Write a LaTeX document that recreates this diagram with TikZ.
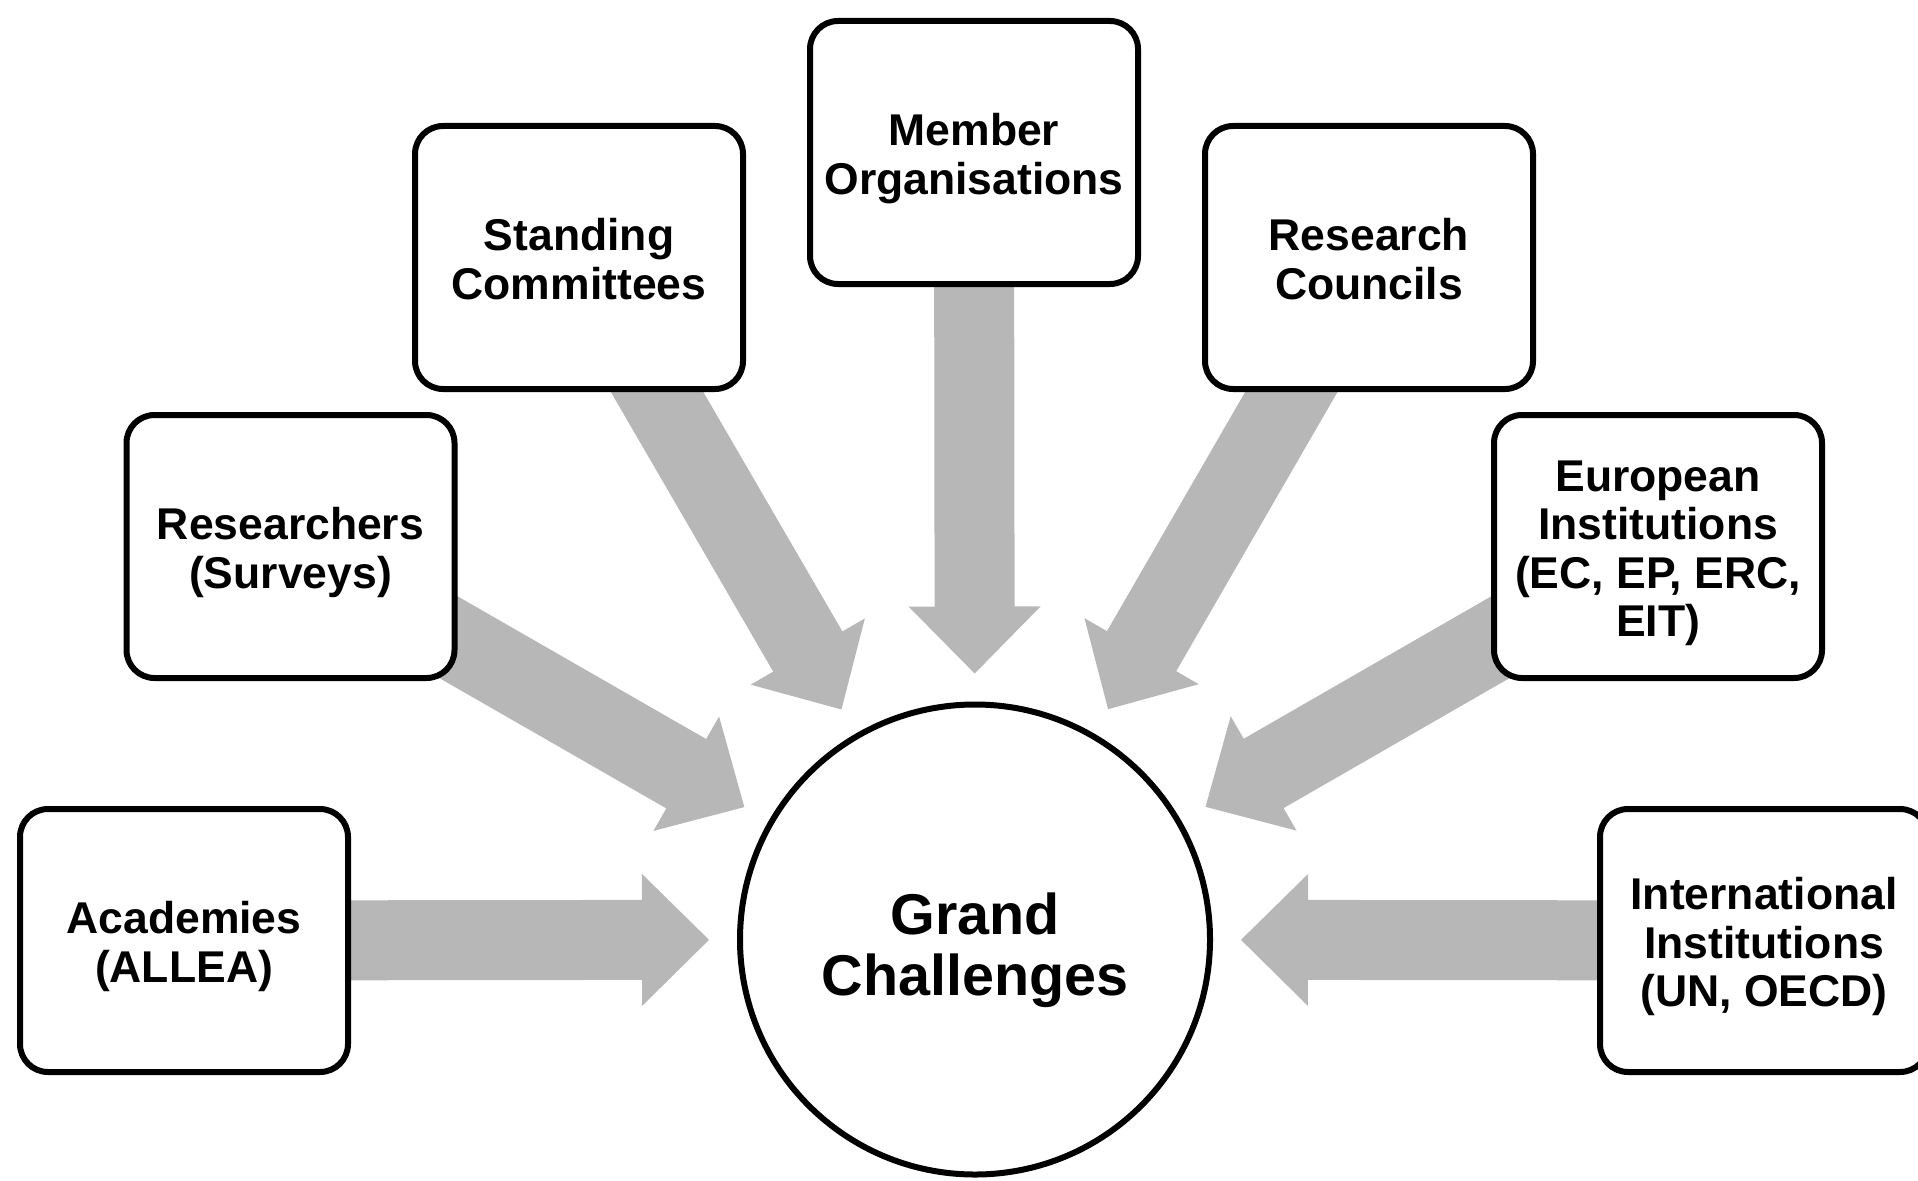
\documentclass[tikz,border=0pt]{standalone}
\usepackage{fontspec}
\setmainfont{Liberation Sans}
\usetikzlibrary{calc}
\definecolor{arrowgray}{RGB}{183,183,183}
\pgfdeclarelayer{bg}
\pgfsetlayers{bg,main}
\newcommand{\boxtop}{\rule{0pt}{47pt}}
\newcommand{\boxbot}{\rule[-12pt]{0pt}{12pt}}
\newcommand{\hubtop}{\rule{0pt}{64pt}}
\newcommand{\hubbot}{\rule[-12pt]{0pt}{12pt}}
\tikzset{
  srcbox/.style={draw=black, line width=6pt, rounded corners=28pt, fill=white,
    minimum width=328pt, minimum height=263pt, inner sep=0pt, align=center,
    font=\fontsize{44.5pt}{48.5pt}\selectfont\bfseries},
  hub/.style={draw=black, line width=6pt, circle, fill=white, minimum size=470pt,
    inner sep=0pt, align=center, font=\fontsize{57.5pt}{61pt}\selectfont\bfseries},
  flow/.style={fill=arrowgray, draw=none},
}
\newcommand{\flowarrow}[1]{%
  \coordinate (T) at ($(gc.center)!266pt!(#1.center)$);
  \coordinate (H) at ($(gc.center)!333pt!(#1.center)$);
  \fill[flow] ($(#1.center)!40pt!90:(T)$) -- ($(H)!40pt!-90:(#1.center)$)
    -- ($(H)!66pt!-90:(#1.center)$) -- (T) -- ($(H)!66pt!90:(#1.center)$)
    -- ($(H)!40pt!90:(#1.center)$) -- ($(#1.center)!40pt!-90:(T)$) -- cycle;
}
\begin{document}
\begin{tikzpicture}[x=1pt, y=-1pt]
  \clip (0,0) rectangle (1918,1180);
  \node[hub] (gc) at (975,939.5) {\hubtop Grand\\Challenges\hubbot};
  \node[srcbox] (mem) at (974,152.5) {\boxtop Member\\Organisations\boxbot};
  \node[srcbox] (stc) at (579,257.5) {\boxtop Standing\\Committees\boxbot};
  \node[srcbox] (rc) at (1369,257.5) {\boxtop Research\\Councils\boxbot};
  \node[srcbox] (res) at (290.5,546.5) {\boxtop Researchers\\(Surveys)\boxbot};
  \node[srcbox] (eu) at (1658,546.5) {\boxtop European\\Institutions\\(EC, EP, ERC,\\EIT)\boxbot};
  \node[srcbox] (aca) at (184,940.5) {\boxtop Academies\\(ALLEA)\boxbot};
  \node[srcbox] (intl) at (1764,940.5) {\boxtop International\\Institutions\\(UN, OECD)\boxbot};
  \begin{pgfonlayer}{bg}
    \flowarrow{mem}
    \flowarrow{stc}
    \flowarrow{rc}
    \flowarrow{res}
    \flowarrow{eu}
    \flowarrow{aca}
    \flowarrow{intl}
  \end{pgfonlayer}
\end{tikzpicture}
\end{document}
